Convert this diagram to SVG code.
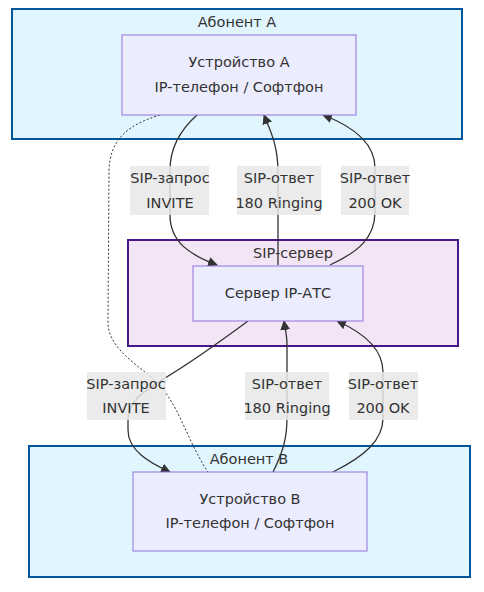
<svg xmlns="http://www.w3.org/2000/svg" width="484" height="592" viewBox="0 0 484 592">
<defs>
<marker id="arr" viewBox="0 0 10 10" refX="9" refY="5" markerUnits="userSpaceOnUse" markerWidth="10" markerHeight="10" orient="auto">
<path d="M0,0 L10,5 L0,10 z" fill="#333"/>
</marker>
<style>
text{font-family:"DejaVu Sans","Liberation Sans",sans-serif;font-size:14.5px;fill:#333;text-anchor:middle}
.clA{fill:#e1f5fe;stroke:#01579b;stroke-width:2}
.clS{fill:#f3e5f5;stroke:#4a148c;stroke-width:2}
.node{fill:#ececff;stroke:#9370db;stroke-width:1}
.edge{fill:none;stroke:#333;stroke-width:1.3}
.dot{fill:none;stroke:#333;stroke-width:1;stroke-dasharray:2 2}
.lbl{fill:#e8e8e8;fill-opacity:0.85}
</style>
</defs>
<rect width="484" height="592" fill="#fff"/>
<g id="cluster-A">
<rect class="clA" x="12" y="9" width="450" height="130"/>
<text x="237" y="27">Абонент А</text>
</g>
<g id="cluster-S">
<rect class="clS" x="128" y="240" width="330" height="106"/>
<text x="293" y="258">SIP-сервер</text>
</g>
<g id="cluster-B">
<rect class="clA" x="29" y="446" width="441" height="131"/>
<text x="249" y="464">Абонент B</text>
</g>
<g id="connectors">
<path class="dot" d="M160,115 C130,124 110,138 109,170 L108,322 C108,345 130,360 150,376 C178,398 186,440 208,472"/>
<path class="edge" marker-end="url(#arr)" d="M197,115 C178,132 170,150 170,170 L170,215 C170,242 190,255 217,265"/>
<path class="edge" marker-end="url(#arr)" d="M278,265 L278,172 C278,145 270,130 264,115"/>
<path class="edge" marker-end="url(#arr)" d="M330,265 C358,252 375,238 375,212 L375,168 C375,142 352,126 323,115"/>
<path class="edge" marker-end="url(#arr)" d="M248,321 C225,338 195,360 165,378 C142,392 128,402 128,420 L128,430 C128,450 148,462 170,472"/>
<path class="edge" marker-end="url(#arr)" d="M273,472 C283,452 287,438 287,418 L287,345 C287,335 285,328 284,321"/>
<path class="edge" marker-end="url(#arr)" d="M333,472 C365,456 383,440 383,418 L383,372 C383,348 362,332 337,321"/>
</g>
<g id="label-1">
<rect class="lbl" x="130" y="166" width="79" height="49"/>
<text x="170" y="183">SIP-запрос</text>
<text x="170" y="208">INVITE</text>
</g>
<g id="label-2">
<rect class="lbl" x="237" y="166" width="84" height="49"/>
<text x="279" y="183">SIP-ответ</text>
<text x="279" y="208">180 Ringing</text>
</g>
<g id="label-3">
<rect class="lbl" x="341" y="166" width="68" height="49"/>
<text x="375" y="183">SIP-ответ</text>
<text x="375" y="208">200 OK</text>
</g>
<g id="label-4">
<rect class="lbl" x="87" y="372" width="79" height="48"/>
<text x="126" y="389">SIP-запрос</text>
<text x="126" y="413">INVITE</text>
</g>
<g id="label-5">
<rect class="lbl" x="245" y="372" width="84" height="48"/>
<text x="287" y="389">SIP-ответ</text>
<text x="287" y="413">180 Ringing</text>
</g>
<g id="label-6">
<rect class="lbl" x="349" y="372" width="69" height="48"/>
<text x="383" y="389">SIP-ответ</text>
<text x="383" y="413">200 OK</text>
</g>
<g id="node-A">
<rect class="node" x="122" y="35" width="234" height="80"/>
<text x="239" y="67">Устройство А</text>
<text x="239" y="92">IP-телефон / Софтфон</text>
</g>
<g id="node-S">
<rect class="node" x="193" y="266" width="170" height="55"/>
<text x="278" y="298">Сервер IP-АТС</text>
</g>
<g id="node-B">
<rect class="node" x="133" y="472" width="234" height="79"/>
<text x="250" y="504">Устройство B</text>
<text x="250" y="528">IP-телефон / Софтфон</text>
</g>
</svg>
